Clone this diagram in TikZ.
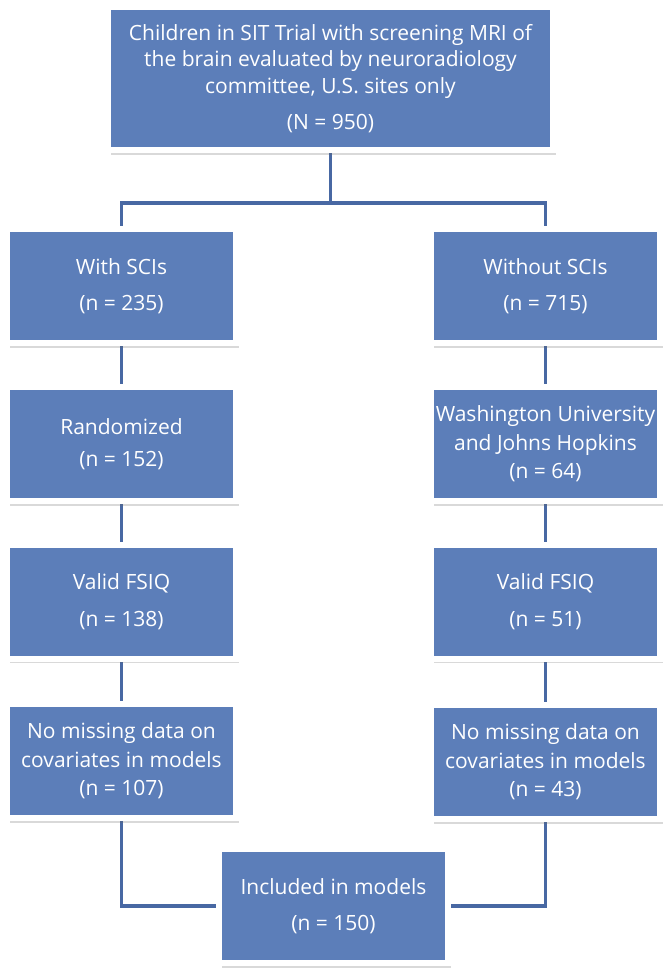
\documentclass[tikz,border=0pt]{standalone}
\usepackage{fontspec}
\setmainfont{Open Sans}
\usepackage{xcolor}
\definecolor{boxblue}{RGB}{92, 126, 185}
\definecolor{linkblue}{RGB}{72, 104, 163}
\usepackage{tikz}
\usetikzlibrary{
    arrows.meta,
    positioning,
    calc,
    backgrounds,
    shadows
}
\tikzset{
    stagebox/.style={rectangle, fill=boxblue, draw=white, line width=6pt,
        inner sep=0pt, minimum width=229pt, minimum height=114pt,
        align=center, text=white, font=\fontsize{21}{28.5}\selectfont,
        drop shadow={shadow xshift=2.5pt, shadow yshift=-4.5pt, opacity=0.25, fill=black!60}},
    link/.style={linkblue, line width=3.5pt}
}

\begin{document}
\begin{tikzpicture}[x=1pt,y=-1pt]
    \useasboundingbox (0,0) rectangle (669,978);

    % screening cohort
    \node[stagebox, minimum width=445pt, minimum height=143pt,
          font=\fontsize{21}{26.5}\selectfont] (top) at (330.5,78.5)
        {Children in SIT Trial with screening MRI of\\
         the brain evaluated by neuroradiology\\
         committee, U.S. sites only\\[10pt]
         (N = 950)};

    % left column: with silent cerebral infarcts
    \node[stagebox] (sciYes)  at (121.5,286)  {With SCIs\\[8pt](n = 235)};
    \node[stagebox] (randYes) at (121.5,444)  {Randomized\\[3pt](n = 152)};
    \node[stagebox] (fsiqYes) at (121.5,601.5) {Valid FSIQ\\[8pt](n = 138)};
    \node[stagebox] (covYes)  at (121.5,761)  {No missing data on\\covariates in models\\(n = 107)};

    % right column: without silent cerebral infarcts
    \node[stagebox] (sciNo)  at (545.5,286)  {Without SCIs\\[8pt](n = 715)};
    \node[stagebox] (wuNo)   at (545.5,444)  {Washington University\\and Johns Hopkins\\(n = 64)};
    \node[stagebox] (fsiqNo) at (545.5,601.5) {Valid FSIQ\\[8pt](n = 51)};
    \node[stagebox] (covNo)  at (545.5,762)  {No missing data on\\covariates in models\\(n = 43)};

    % final sample
    \node[stagebox] (incl) at (333.5,906) {Included in models\\[8pt](n = 150)};

    \coordinate (split) at (330.5,203);

    % connectors
    \begin{scope}[on background layer]
        \draw[link] (top.south) -- (split);
        \draw[link] (split) -| (sciYes.north);
        \draw[link] (split) -| (sciNo.north);
        \draw[link] (sciYes) -- (randYes);
        \draw[link] (randYes) -- (fsiqYes);
        \draw[link] (fsiqYes) -- (covYes);
        \draw[link] (sciNo) -- (wuNo);
        \draw[link] (wuNo) -- (fsiqNo);
        \draw[link] (fsiqNo) -- (covNo);
        \draw[link] (covYes.south) |- (incl.west);
        \draw[link] (covNo.south) |- (incl.east);
    \end{scope}
\end{tikzpicture}
\end{document}
